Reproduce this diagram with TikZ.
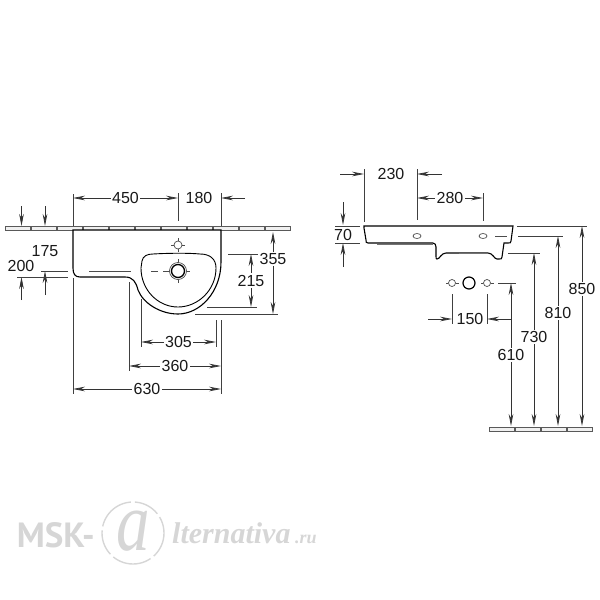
\documentclass[tikz,border=0pt]{standalone}
\usepackage{fontspec}
\setmainfont{Liberation Sans}
\newfontfamily\markfont{Liberation Serif}
\newfontfamily\marksans{PT Sans}
\usetikzlibrary{arrows.meta}
\tikzset{
  dimline/.style={black!80, line width=0.7pt, {Stealth[length=12pt,width=4.6pt]}-{Stealth[length=12pt,width=4.6pt]}},
  tipline/.style={black!80, line width=0.7pt, -{Stealth[length=12pt,width=4.6pt]}},
  extline/.style={black!75, line width=0.7pt},
  dimlabel/.style={fill=white, text=black!90, inner sep=1.5pt, font=\fontsize{16}{16}\selectfont},
  strip/.style={draw=black!65, fill=black!6, line width=0.7pt},
  outline/.style={black, line width=1.1pt},
  thinline/.style={black!70, line width=0.6pt},
  hole/.style={draw=black!70, line width=0.7pt},
  markgray/.style={black!16}
}
\begin{document}
\begin{tikzpicture}[x=1pt, y=-1pt]
\useasboundingbox (0,0) rectangle (600,600);

% wall strip, front view
\foreach \i in {0,...,10}
  \draw[strip] ({5.5+26*\i},226) rectangle ({30+26*\i},230.5);
% floor strip, side view
\foreach \i in {0,...,3}
  \draw[strip] ({489+26*\i},427) rectangle ({514+26*\i},431);

% basin, front view
\draw[outline, fill=white] (73,230) -- (221,230) -- (221,262)
  .. controls (221,292) and (200,314) .. (178,314)
  .. controls (160,314) and (143,303) .. (138,290)
  .. controls (136,282) and (133,277) .. (125,277)
  -- (80,277) .. controls (75,277) and (73,274) .. (73,268) -- cycle;
\draw[line width=0.9pt] (142,261) .. controls (143,256) and (147,254) .. (153,254)
  .. controls (170,253) and (190,253) .. (200,254)
  .. controls (210,254) and (216,259) .. (216,268)
  .. controls (216,290) and (198,307) .. (178,307)
  .. controls (158,307) and (141,290) .. (141,268) -- cycle;
\draw[thinline] (178,259) -- (178,283) (163,271) -- (190,271);
\draw[thinline] (178,238) -- (178,252) (171,245) -- (185,245);
\draw[hole, fill=white] (178,271) circle (8.5);
\draw[black, fill=white, line width=1.3pt] (178,271) circle (6.5);
\draw[hole, fill=white] (178,245) circle (4);
\draw[thinline] (89,271) -- (131,271) (151,271) -- (158,271);

% dimensions, front view
\draw[extline] (73,194) -- (73,226) (178,193) -- (178,221) (221,193) -- (221,226);
\draw[dimline] (73,198) -- (178,198) node[dimlabel, midway] (dimA) {450};
\draw[tipline] (245,198) -- (221,198);
\node[dimlabel] (dimB) at (199,198) {180};
\draw[tipline] (21.5,206) -- (21.5,226);
\draw[tipline] (45,206) -- (45,226);
\draw[tipline] (21.5,300) -- (21.5,277);
\draw[tipline] (45,295) -- (45,271);
\draw[extline] (17,277) -- (68,277) (41,271) -- (68,271);
\node[dimlabel, fill=none] (dimC) at (45,251) {175};
\node[dimlabel, fill=none] (dimD) at (21,266) {200};
\draw[dimline] (273,232) -- (273,314) node[dimlabel, pos=0.33] (dimE) {355};
\draw[extline] (195,314) -- (278,314);
\draw[dimline] (251,254) -- (251,307) node[dimlabel, midway] (dimF) {215};
\draw[extline] (228,254) -- (258,254) (207,307) -- (257,307);
\draw[extline] (141,299) -- (141,347) (216,320) -- (216,347) (129,282) -- (129,371) (221,320) -- (221,394) (73,278) -- (73,394);
\draw[dimline] (141,342) -- (216,342) node[dimlabel, midway] (dimG) {305};
\draw[dimline] (129,366) -- (221,366) node[dimlabel, midway] (dimH) {360};
\draw[dimline] (73,389) -- (221,389) node[dimlabel, midway] (dimI) {630};

% basin, side view
\draw[outline] (364,226) -- (513,226) -- (511,241)
  .. controls (511,243) and (510,243) .. (508,243) -- (504,243) -- (502,257)
  .. controls (502,259) and (501,259) .. (499,259) -- (497,259)
  .. controls (494,259) and (493,253) .. (488,253) -- (446,253)
  .. controls (441,253) and (440,259) .. (437,259)
  .. controls (436,259) and (436,258) .. (436,256) -- (436,247)
  .. controls (436,245) and (435,243) .. (433,243) -- (368,243)
  .. controls (366,243) and (366,242) .. (366,240) -- (364,228) -- cycle;
\draw[black!55, line width=1.2pt] (377,244.5) -- (433,244.5);
\draw[black!55, line width=1.2pt] (459,253.5) -- (488,253.5);
\draw[hole] (417,236) ellipse (4 and 2.5);
\draw[hole] (483,236) ellipse (4 and 2.5);
\draw[thinline] (495,236) -- (507,236);

% wall holes, side view
\draw[hole] (452,283) circle (3.5);
\draw[black, line width=1.2pt] (469,283) circle (6);
\draw[hole] (487,283) circle (3.5);
\draw[thinline] (446,283) -- (448,283) (456,283) -- (459,283) (481,283) -- (483,283) (491,283) -- (494,283);

% dimensions, side view
\draw[extline] (364,169) -- (364,222) (417,169) -- (417,220) (483,193) -- (483,221);
\draw[tipline] (340,174) -- (364,174);
\draw[tipline] (442,174) -- (417,174);
\node[dimlabel] (dimJ) at (391,174) {230};
\draw[dimline] (417,198) -- (483,198) node[dimlabel, midway] (dimK) {280};
\draw[tipline] (343,202) -- (343,225);
\draw[tipline] (343,267) -- (343,243);
\draw[extline] (335,226) -- (360,226) (335,243) -- (360,243);
\node[dimlabel, fill=none] (dimL) at (343,235) {70};
\draw[extline] (452,294) -- (452,324) (487,294) -- (487,324);
\draw[tipline] (428,319) -- (452,319);
\draw[tipline] (511,319) -- (487,319);
\node[dimlabel] (dimM) at (470,319) {150};
\draw[extline] (498,283) -- (516,283) (508,253) -- (540,253) (518,236) -- (563,236) (517,226) -- (587,226);
\draw[dimline] (511,283) -- (511,426) node[dimlabel] (dimN) at (511,355) {610};
\draw[dimline] (534,253) -- (534,426) node[dimlabel] (dimO) at (534,337) {730};
\draw[dimline] (558,236) -- (558,426) node[dimlabel] (dimP) at (558,313) {810};
\draw[dimline] (582,226) -- (582,426) node[dimlabel] (dimQ) at (582,289) {850};

% watermark
\node[markgray, font=\marksans\fontsize{35}{35}\selectfont\bfseries, anchor=base east, inner sep=0pt] (markA) at (95,547) {MSK-};
\draw[markgray, line width=1.4pt, dash pattern=on 26pt off 4pt on 40pt off 4pt] (133,533) circle (31);
\node[markgray, font=\markfont\fontsize{84}{84}\selectfont\itshape, xscale=0.8] (markB) at (133,531) {a};
\node[markgray, font=\markfont\fontsize{30}{30}\selectfont\bfseries\itshape, anchor=base west, inner sep=0pt] (markC) at (172,543) {lternativa};
\node[markgray, font=\markfont\fontsize{18}{18}\selectfont\bfseries\itshape, anchor=base west, inner sep=0pt] (markD) at (295,543) {.ru};
\end{tikzpicture}
\end{document}
